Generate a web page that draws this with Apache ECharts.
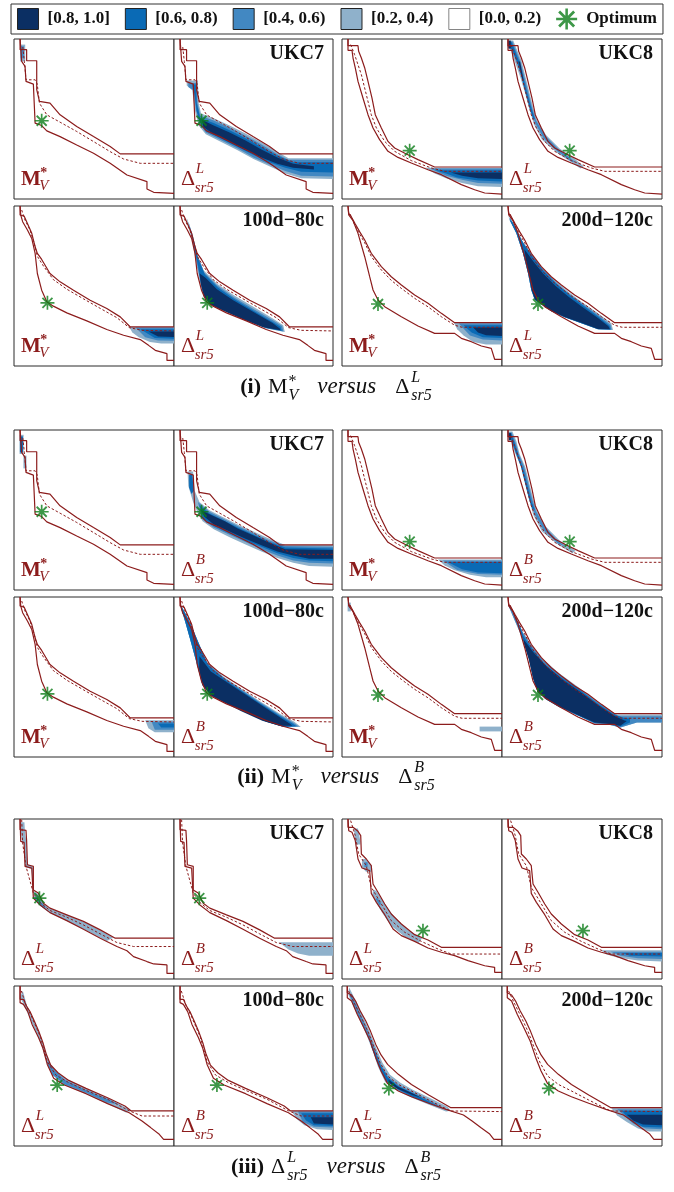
<!DOCTYPE html>
<html>
<head>
<meta charset="utf-8">
<script src="https://cdn.jsdelivr.net/npm/echarts/dist/echarts.min.js"></script>
<style>
html, body { margin: 0; padding: 0; background: #ffffff; }
#chart { width: 674px; height: 1192px; }
</style>
</head>
<body>
<div id="chart"></div>
<script>
// ---------------------------------------------------------------------------
// Legend levels (fraction of runs covering a cell)
// ---------------------------------------------------------------------------
const levelNames = ['[0.8, 1.0]', '[0.6, 0.8)', '[0.4, 0.6)', '[0.2, 0.4)', '[0.0, 0.2)'];
const levelColors = ['#0b2f63', '#0a6ab5', '#4288c2', '#8fb1cb', '#ffffff'];

const datasetTitles = ['UKC7', 'UKC8', '100d\u221280c', '200d\u2212120c'];

// ---------------------------------------------------------------------------
// Attainment fronts, panel units (x 0..100 left->right, y 0..100 bottom->top)
// Family A: used by sections (i) and (ii); family B: section (iii)
// ---------------------------------------------------------------------------
const ukc7A_up  = [[3.8,100],[3.8,93.3],[7.9,93.3],[7.9,86.4],[14.2,86.4],[14.2,68.3],[15.9,61],[22.5,59.9],[28.8,52.6],[39.2,45.3],[49.7,39],[60.1,32.8],[66.4,28.2],[100,28.2]];
const ukc7A_lo  = [[3.8,100],[4.8,86],[6.9,82.9],[7.5,73.5],[12.1,71.8],[13.2,47.4],[17.3,45.9],[20.5,42.6],[28.8,39],[39.2,33.8],[49.7,28.6],[60.1,22.3],[70.6,15],[83.1,10.9],[83.1,6.3],[87.3,4.2],[100,3.5]];
const ukc7A_med = [[5.5,95],[6.5,86],[7.5,74.5],[13.2,74.5],[14.5,72],[15.9,59.9],[20.5,52.6],[28.8,48],[39.2,42.2],[49.7,35.9],[60.1,29.6],[68.5,25],[78.9,22.3],[100,22.3]];
const ukc7A_opt = [17.3, 48.9];

const ukc8A_up  = [[3.75,100],[3.75,95.8],[10,95.8],[10.4,92.3],[12.1,88.1],[14.2,81.9],[16.25,73.5],[18.75,63.1],[20.8,52.7],[24.6,44.4],[28.75,36],[32.9,31.9],[40.2,28.1],[47.5,24.6],[57.9,20],[100,20]];
const ukc8A_lo  = [[3.75,100],[3.75,92.9],[6.25,92.9],[6.9,88.1],[8.3,81.9],[10,73.5],[13.1,63.1],[16.25,52.7],[19.4,44.4],[23.5,37.1],[28.75,29.8],[35,26],[43.3,22.5],[53.75,18.3],[62.1,15.2],[74.6,9],[82.9,5.8],[89.2,3.75],[100,3.1]];
const ukc8A_med = [[5.4,96.5],[7.9,90.2],[12.1,77.7],[15.2,65.2],[18.3,52.7],[21.5,44.4],[26.7,36],[32.9,29.8],[43.3,24],[55.8,19.4],[64.2,17.3],[100,17.3]];
const ukc8A_opt = [42.3, 30.2];

const d100A_up  = [[3.8,100],[3.8,94.4],[6.3,93.7],[8.4,89.1],[11.1,82.9],[13.2,74.5],[14.6,70.4],[17.3,66.6],[22.5,57.8],[28.8,52.6],[37.2,47.4],[47.6,41.1],[58,35.9],[66.4,30.7],[72.7,24.4],[100,24.4]];
const d100A_lo  = [[3.8,100],[4.2,94.4],[5.4,90.2],[8.4,85],[11.1,79.7],[13.2,70.4],[14.6,57.8],[17.3,47.4],[20.5,40.1],[24.6,37.4],[33,33.2],[45.5,28.2],[58,22.8],[68.5,19.2],[78.9,16.5],[84.1,12.9],[88.3,9.8],[95.6,7.7],[95.6,3.5],[100,3.5]];
const d100A_med = [[4.8,97.5],[6.9,91.2],[10,85],[12.7,76.6],[14.6,68.5],[18.4,62.5],[24.6,54],[33,48],[43.4,42],[53.9,36],[64.3,30.2],[72,24],[80,22.3],[100,21.9]];
const d100A_opt = [20.9, 39.5];

const d200A_up  = [[3.75,100],[4.2,95.4],[5.8,93.3],[8.3,88.75],[11,84],[14.2,78.75],[18.3,70.4],[24.6,62.1],[30.8,55.8],[37.1,50.6],[45.4,44.4],[53.75,39.2],[62.1,32.9],[70.4,27.1],[100,27.1]];
const d200A_lo  = [[3.75,100],[4.2,94.4],[6.9,90.8],[10,82.9],[14.2,68.3],[17.3,55.8],[19.4,47.5],[22.5,41.25],[26.7,37.1],[37.1,30.8],[47.5,25],[57.9,20.4],[70.4,20.4],[74.6,17.3],[80.8,15.2],[87.1,12.5],[93.3,11],[95.4,4.2],[100,4.2]];
const d200A_med = [[5,95],[8.3,87.5],[11,82.5],[14.2,77],[18.3,68.5],[24.6,60],[30.8,53.5],[37.1,48.5],[45.4,42.3],[53.75,37],[62.1,30.8],[70.4,25.5],[75,24.2],[100,24.2]];
const d200A_opt = [22.5, 38.75];

const ukc7B_up  = [[3.8,100],[3.8,93.3],[7.5,92.9],[7.9,86],[8.4,71.4],[12.1,70.4],[12.1,55.7],[15.2,53.7],[18.4,47.4],[22.5,44.3],[33,40.1],[43.4,36],[53.9,30.7],[63.3,25.5],[100,25.5]];
const ukc7B_lo  = [[3.8,100],[4.2,86],[6.3,85.4],[6.9,70.4],[11.1,69.3],[12.1,50.5],[16.3,46.3],[22.5,41.5],[33,36.5],[43.4,31.1],[53.9,25.5],[64.3,20.3],[70.6,17.7],[74.7,14],[83.1,10.9],[87.3,9.4],[95.6,8.8],[95.6,3.5],[100,3.5]];
const ukc7B_med = [[4.8,99.6],[5.4,85],[7.5,70.4],[12.1,53.7],[16.3,47.8],[22.5,42.8],[33,38.6],[43.4,33.8],[53.9,28.2],[64.3,22.8],[74.7,20.3],[100,20.3]];
const ukc7B_opt = [15.9, 50.5];

const ukc8B_up  = [[3.75,100],[3.75,94.8],[6.9,94.8],[10,92.3],[11.7,89.6],[12.1,78.1],[15.2,75],[18.3,70.8],[19.4,59.4],[22.5,54.2],[26.7,46.9],[30.8,40.6],[37.1,34.4],[45.4,27.7],[53.75,24.4],[62.1,19.8],[100,19.8]];
const ukc8B_lo  = [[3.75,100],[4.2,92.7],[6.25,91.7],[8.3,86.5],[10,75],[12.5,69.4],[17.3,67.7],[18.3,53.5],[21.5,47.9],[26.7,40.2],[31.9,31.25],[37.1,27.1],[45.4,23.5],[53.75,19.4],[62.1,16.7],[70.4,14.6],[78.75,11.5],[89.2,8.3],[95.4,7.3],[95.4,4.2],[100,4.2]];
const ukc8B_med = [[5.4,99],[8.3,89.6],[10.4,78.1],[15.2,70.8],[18.3,57.3],[24.6,46.9],[30.8,36.5],[39.2,29.2],[49.6,23.5],[60,18.75],[68.3,15.6],[100,15.6]];
const ukc8B_opt = [50.6, 30.2];

const d100B_up  = [[3.8,100],[3.8,91.7],[5.9,91.7],[7.8,87.5],[10,84],[12.7,78.1],[15.4,71.9],[18.1,64.6],[20.2,57.3],[22.9,50.6],[27.5,45.8],[34.2,41],[45,36],[58.5,30.2],[69.3,25],[73.3,21.9],[100,21.9]];
const d100B_lo  = [[3.8,100],[3.8,89.6],[5.9,88.5],[8.6,84],[11.3,76],[15.4,67.7],[18.1,61],[20.8,51],[24.8,42.3],[31.5,38.1],[45,32.7],[58.5,26.5],[72,20.8],[80,15.6],[85.4,11.5],[90.8,7.3],[93.5,4.2],[100,4.2]];
const d100B_med = [[4.6,96.9],[7.3,88.5],[11.3,80.2],[16.7,67.7],[20.8,52.7],[26.1,44.4],[34.2,39.6],[45,34.8],[58.5,29.2],[72,22],[80,18.75],[100,18.75]];
const d100B_opt = [27, 38.1];

const d200B_up  = [[3.3,100],[3.3,95.8],[6,94.4],[8.7,90.2],[11.4,84.4],[14.9,78.1],[17.9,71.5],[21.1,63.5],[24.4,56.9],[28.5,51],[35.2,44.8],[43.4,38.5],[54.2,31.9],[67.8,24],[100,24]];
const d200B_lo  = [[3.3,100],[3.3,92.7],[6,90.6],[9.5,82.3],[13.6,74],[17.6,65.6],[21.1,55.2],[24.4,46.9],[28.5,39],[35.2,34.4],[43.4,30.8],[54.2,26.7],[65,22.9],[75.9,19.4],[81.3,15.6],[86.7,11.5],[92.1,7.7],[94.9,4.2],[100,4.2]];
const d200B_med = [[4.1,96.9],[8.1,88.5],[12.2,80.2],[16.3,71.5],[20.3,61],[23.8,52.1],[28.5,43.75],[35.2,38.5],[43.4,34.4],[54.2,28.75],[67.8,21.9],[100,21.5]];
const d200B_opt = [29.3, 36];

// ---------------------------------------------------------------------------
// Shaded regions: [level, polygon]; level 1 = [0.2,0.4) ... 4 = [0.8,1.0]
// ---------------------------------------------------------------------------
const shade_i_ukc7_mv = [
  [1, [[3.8,96.5],[7,96.5],[7,86],[3.8,86]]],
  [2, [[4.2,95.5],[6.2,95.5],[6.2,88],[4.2,88]]]
];
const shade_i_ukc7_dl = [
  [1, [[8,74],[15,74],[15.5,60],[17,53.5],[25,50.5],[35,46],[45,41],[55,35.5],[65,29.5],[72,25.5],[100,25.5],[100,12.5],[80,12.9],[70,16],[60,20.5],[50,25],[40,30.5],[30,35.5],[20,40.5],[15.5,46],[13,56],[11.5,68],[8,71]]],
  [2, [[9,72.5],[14.2,72.5],[14.8,60],[16.5,52],[25,49],[35,44.5],[45,39.5],[55,34],[65,28],[72,24.5],[100,24.5],[100,14],[80,14.5],[70,17.5],[60,21.5],[50,26],[40,31.5],[30,36.5],[20,41.5],[16,47],[13.8,56],[12.3,68],[9,70]]],
  [3, [[11.5,71.5],[13.8,71.5],[14.3,60],[16.5,50.5],[25,47.5],[35,43],[45,38],[55,32.5],[65,27],[75,23],[100,23],[100,16.5],[80,17],[70,19.5],[60,23],[50,27.5],[40,32.5],[30,37.5],[20,42.5],[16.5,48],[14.2,55],[13,65]]],
  [4, [[17.5,49.5],[25,46],[35,41.5],[45,36.5],[55,31],[65,26],[75,22],[88,20.5],[88,18.5],[75,19.5],[65,22],[55,26],[45,30.5],[35,35.5],[25,40.5],[18.5,45]]]
];
const shade_i_ukc8_mv = [
  [1, [[52,19.5],[100,19.5],[100,7.5],[85,8],[75,10],[65,13],[58,16]]],
  [2, [[55,19],[100,19],[100,9.5],[85,10],[75,12],[65,14.5]]],
  [3, [[58,18],[100,18],[100,11],[85,11.5],[72,13.5],[65,16]]],
  [4, [[68,16.5],[100,16.5],[100,12.5],[85,13],[75,14.5]]]
];
const shade_i_ukc8_dl = [
  [1, [[3.5,99],[7,99],[9,94],[12,87],[14.5,77],[17,67],[19.5,57],[22,49],[27.5,40],[36,31.5],[45,25.5],[51,20.5],[49,19],[44,22.5],[35,28.5],[25,37],[20,46.5],[17,56.5],[14.5,66],[11.5,76],[8,86],[5.5,93],[3.5,95]]],
  [2, [[4,98.5],[6.5,98.5],[8.5,93.5],[11.3,86.5],[13.8,77],[16.3,67],[18.8,57],[21.3,49],[27,39.5],[35.5,31],[44,24.5],[46,23],[43.5,23.5],[35,29.5],[26,38],[20.7,47.5],[17.7,57],[15.2,67],[12.3,77],[9,86],[6,93.5],[4,96]]],
  [3, [[4.2,98],[6,98],[8,93],[10.7,86],[13.3,76],[15.8,66],[18,58],[20.5,50],[19.5,50],[17.2,57],[14.8,66],[12.3,76],[9.5,85.5],[6.5,93],[4.2,95.5]]],
  [4, [[4,99],[5.5,99],[5.5,94],[4,94]]],
  [4, [[10.3,86],[11.3,86],[13.5,74],[12.8,74]]]
];
const shade_i_d100_mv = [
  [1, [[72,24.4],[100,24.4],[100,14],[92,14],[85,15],[78,18],[74,21]]],
  [2, [[76,24],[100,24],[100,15.8],[90,16],[82,18]]],
  [3, [[79,23],[100,23],[100,17],[88,17.5]]],
  [4, [[84,21.5],[100,21.5],[100,18.2],[90,18.5]]]
];
const shade_i_d100_dl = [
  [1, [[8.1,92.3],[11.3,82.9],[14.4,70.4],[18.6,59.9],[26.9,51.6],[37.4,44.3],[49.9,37],[62.4,29.6],[68.7,25.5],[69.7,21.3],[58.2,23.4],[45.7,28.2],[33.2,33.8],[24.8,37.4],[18.6,43.2],[16.5,51.6],[14.4,62],[11.3,78.7],[8.1,91.2]]],
  [2, [[9,90.5],[12,81],[14.8,69],[19,58.5],[27.2,50.3],[37.6,43],[50,35.7],[62.4,28.4],[68,25],[68.8,21.6],[58.2,23.6],[45.7,28.4],[33.2,34],[24.8,37.6],[18.8,43.4],[16.8,51.6],[14.8,62],[11.9,77.5],[9.5,88]]],
  [3, [[12.5,78],[15.2,67],[19.5,57],[27.5,49],[37.8,41.8],[50,34.5],[62,27.5],[67,24.5],[67.8,22],[58.2,23.8],[45.7,28.6],[33.2,34.2],[25,37.8],[19,43.6],[17,51.6],[15.2,62],[13,73]]],
  [4, [[16,58],[20,55],[27,48],[37.5,41],[50,33.8],[62,26.8],[66.5,23.5],[67,22.3],[56.2,24.2],[43.6,29],[31.1,34.6],[22.8,38.4],[18.8,43.6],[17,51]]]
];
const shade_i_d200_mv = [
  [1, [[70,27],[100,27],[100,13.5],[90,13.5],[82,15],[76,19],[72,23]]],
  [2, [[73,26.5],[100,26.5],[100,16],[88,16.5],[80,19]]],
  [3, [[76,25.5],[100,25.5],[100,17.5],[88,18],[81,21]]],
  [4, [[82,24],[100,24],[100,18.8],[90,19.2],[85,21]]]
];
const d200_i_floor = [[60,22.9],[49.6,26.7],[39.2,30.4],[30.8,34.2],[24.6,38.5],[20.4,41.5],[18.3,47.5],[16.25,57.9],[13.1,70.4],[8.96,82.9],[4.8,91.25]];
const shade_i_d200_dl = [
  [1, [[3.75,94.4],[7.9,87.1],[12.1,78.75],[18.3,70.4],[24.6,62.1],[32.9,53.75],[41.25,46.5],[49.6,40.2],[60,32.9],[68.3,26.7],[69.4,22.5]].concat(d200_i_floor)],
  [2, [[5,93],[8.8,85.8],[13,77.5],[19,69],[25.2,60.8],[33.4,52.5],[41.7,45.3],[50,39],[60.2,31.7],[67.8,25.8],[68.6,22.7]].concat(d200_i_floor)],
  [3, [[6.5,90],[10,83],[13.8,76],[19.5,67.8],[25.8,59.7],[34,51.4],[42.2,44.3],[50.5,38],[60.5,30.7],[67.2,25.2],[68,22.8]].concat(d200_i_floor)],
  [4, [[14,73],[19.5,65.5],[25.5,58],[33.5,50],[42,43],[50,37],[60,30],[66.5,24.8],[67.5,23],[60,23.2],[49.6,27],[39.2,30.7],[30.8,34.3],[24.6,38.7],[20.6,41.6],[18.6,47.5],[16.8,57.9],[15,66]]]
];

const shade_ii_ukc7_mv = [
  [1, [[3.5,97],[6,97],[6,85],[3.5,85]]],
  [1, [[5.9,84],[7.8,84],[7.8,76],[5.9,76]]],
  [3, [[3.7,96],[5.6,96],[5.6,86],[3.7,86]]]
];
const shade_ii_ukc7_db = [
  [1, [[8.5,74],[12,74],[13,62],[16,55],[22,50],[30,46],[40,41],[50,36.5],[60,32],[70,28.2],[80,28.2],[100,28.2],[100,14.5],[85,15],[75,17],[65,20],[55,24],[45,28.5],[35,33],[25,38],[18,43],[15,48],[12,55],[9,65]]],
  [2, [[15,55],[22,49],[30,45],[40,40],[50,35.5],[60,31],[70,27.5],[100,27],[100,16.5],[85,17],[75,18.5],[65,21.5],[55,25.5],[45,30],[35,34.5],[25,39],[18,44]]],
  [3, [[9.5,72],[11.5,72],[12.5,62],[11,60],[9.5,64]]],
  [3, [[16,53],[22,48],[30,44],[40,39],[50,34.5],[60,30],[70,26.5],[100,26],[100,18],[85,18.5],[75,20],[65,23],[55,27],[45,31],[35,35.5],[25,40],[18,45]]],
  [4, [[17,50],[24,46.5],[32,43],[40,38.5],[50,34],[60,29.5],[70,25.5],[100,25],[100,19.5],[85,19.5],[75,21.5],[65,24],[55,28],[45,32],[35,36.5],[25,41],[19,46]]]
];
const shade_ii_ukc8_mv = [
  [1, [[60,19],[100,19],[100,8],[90,8],[80,9.5],[70,12.5],[64,15.5]]],
  [2, [[63,18.5],[100,18.5],[100,9.5],[85,10],[72,12.5]]],
  [3, [[66,17.5],[100,17.5],[100,10.5],[85,11],[75,13]]]
];
const shade_ii_ukc8_db = [
  [1, [[3.5,99],[6.5,99],[9,93],[11,85],[14.5,77],[17,67],[19.5,57],[22,49],[27.5,39.5],[36,31],[44,26],[46,24.5],[44,23],[35.5,28],[25,36.5],[19.5,47],[17,56.5],[14.5,67],[12,77],[8,86],[5.5,94],[3.5,96]]],
  [2, [[4,98.5],[6,98.5],[8.5,92],[10.5,85],[13.8,77],[16.3,67],[18.8,57],[21.3,49],[26.8,39.5],[35,30.5],[40,27],[35,29],[26,37.5],[20.3,47.5],[17.8,57],[15.3,67],[12.8,77],[9,86],[6,93.5],[4,96.5]]],
  [3, [[4,98],[5.8,98],[7.5,93],[10,85],[13.5,75],[16,65],[18.5,55],[20.5,50],[19,50.5],[16.8,57],[14.3,67],[11.8,77],[8.5,86],[5.6,94],[4,96.5]]],
  [4, [[4.2,98],[5.6,98],[5.6,93.5],[4.2,93.5]]]
];
const shade_ii_d100_mv = [
  [1, [[82,23],[100,23],[100,15.5],[88,15.5],[84,18]]],
  [2, [[86,22],[100,22],[100,17],[88,17]]],
  [3, [[90,21],[100,21],[100,18.5],[92,18.5]]]
];
const d100_ii_floor = [[69,18.8],[58.2,22],[44.7,28.2],[31.3,34.5],[23.2,38.7],[17.8,45],[15.1,55.4],[11.1,70.1],[7,84.7],[3.8,95.2]];
const shade_ii_d100_db = [
  [1, [[4.3,95.2],[9.7,84.7],[15.1,72.2],[20.5,59.6],[31.3,50.2],[42,42.9],[52.8,35.6],[66.3,27.2],[75.7,22],[79.8,18.8]].concat(d100_ii_floor)],
  [2, [[5.5,93],[10.5,83],[15.6,71],[21,58.5],[31.6,49.3],[42.3,42],[53,34.8],[66.3,26.4],[74.8,21.6],[78.5,19]].concat(d100_ii_floor)],
  [3, [[7,90],[11.5,81],[16.2,69.5],[21.5,57.5],[32,48.5],[42.6,41.2],[53.3,34],[66.3,25.8],[74,21.2],[77,19.2]].concat(d100_ii_floor)],
  [4, [[16,63],[23.2,53.5],[34,46.3],[44.7,39.2],[55.5,32],[66.3,25],[73,20.8],[74.4,19.6],[66.3,19.6],[55.5,22.6],[42,28.8],[31.3,34.2],[23.2,38.5],[18,45],[15.8,55]]]
];
const shade_ii_d200_mv = [
  [1, [[86,19],[100,19],[100,16],[86,16]]],
  [1, [[3.5,96.5],[5.5,96.5],[5.5,91],[3.5,91]]]
];
const d200_ii_floor = [[100,21.5],[84.3,21.5],[74,18.5],[65,20.6],[57.9,21],[49.2,25.1],[35.7,31.3],[27.6,36],[22.2,40.8],[19.5,49.2],[16.8,61.7],[12.7,74.3],[7.3,86.8],[3.8,95.2]];
const shade_ii_d200_db = [
  [1, [[4.6,95.2],[8.6,86.8],[12.7,78.5],[18.1,70.1],[24.9,61.7],[35.7,52.3],[46.5,44.5],[57.3,36.6],[68.1,28.7],[72,26.5],[100,26.5]].concat(d200_ii_floor)],
  [2, [[6,93],[10,84.5],[13.2,77.5],[18.7,69],[25.5,60.5],[36.2,51.2],[47,43.5],[57.8,35.7],[68.5,28],[72.5,25.5],[100,25.5]].concat(d200_ii_floor)],
  [3, [[8,89],[11.5,81],[13.4,75.5],[19.3,66.8],[26.5,58.2],[37.3,49.6],[48,42.4],[58.9,34],[69.6,26.9],[76,24.5],[80,24],[80,21.5],[74,19],[65,20.8],[57.9,21.3],[49.2,25.1],[35.7,31.3],[27.6,36],[22.2,40.8],[19.5,49.2],[16.8,61.7],[12.7,74.3]]],
  [4, [[13.5,73.5],[20,65],[28,56.5],[38.4,48],[49.2,40.5],[60,32.5],[70.8,25.5],[76.2,23],[78,22.5],[74,19.5],[65,21],[57.9,21.5],[49.2,25.5],[35.7,31.5],[27.6,36.3],[22.2,41],[19.5,49],[16.8,61],[14,70]]]
];

const shade_iii_ukc7_dl = [
  [1, [[3.8,98],[6.5,98],[7,90],[7.8,86],[8.2,72],[11.8,70],[12,55],[15.5,53],[18.5,47],[22.5,44],[33,40],[45.5,34.8],[58,28.2],[62,25.8],[58,23.8],[45.5,30.2],[33,36.3],[21,42.2],[16.3,45.8],[12.5,50],[11.5,60],[11,68.8],[7,70],[6.5,84],[5,86],[4.3,92]]],
  [2, [[14,52],[17,48],[20,45],[19,44],[15,47],[13,50]]]
];
const shade_iii_ukc7_db = [
  [1, [[66,23],[100,23],[100,14.5],[85,14.5],[78,16],[72,18.5]]]
];
const shade_iii_ukc8_dl = [
  [1, [[7.5,94],[10,94],[11.5,86],[11.5,84],[9,84],[8,88]]],
  [1, [[12.5,75],[15,75],[18.5,71],[18.5,67],[15,67],[12.5,70]]],
  [1, [[19.5,56],[21.5,55],[27,46.5],[33,38.3],[41.5,30.5],[50,25.5],[48,22.5],[39,26.5],[30.5,33.5],[25,41.5],[21,48.5],[19,53]]],
  [2, [[14,73],[16,73],[16,70],[14,70]]],
  [2, [[22,51],[24.5,47],[23.5,46],[21,50]]]
];
const shade_iii_ukc8_db = [
  [1, [[62,18],[100,18],[100,11],[85,11.5],[72,13.5],[65,15.5]]],
  [2, [[68,17],[100,17],[100,12.5],[85,13],[74,14.5]]],
  [3, [[75,16.2],[100,16.2],[100,14],[80,14.5]]]
];
const shade_iii_d100_dl = [
  [1, [[5.5,97],[8.5,86.3],[12.5,78.5],[16.5,68.8],[19.5,59.5],[22.5,51.5],[26.5,46.5],[32.5,42],[45.5,35.6],[59,29.8],[71,23.5],[73,22],[70,21],[58,26.5],[44.5,32.8],[31,38.2],[23.5,45],[19.5,55.5],[17,63.5],[14.3,70],[10.3,79],[6.3,88],[3.8,93]]],
  [2, [[21.5,53],[25.5,47],[32,41.3],[45,35],[58.5,29.4],[66,26],[58,27.2],[44.8,33.5],[31.5,38.6],[24,44.5],[20.5,52]]]
];
const shade_iii_d100_db = [
  [1, [[74,22],[100,22],[100,10],[90,10.5],[82,13],[77,17]]],
  [2, [[78,21.5],[100,21.5],[100,11.5],[88,12],[81,15]]],
  [3, [[80,20.5],[100,20.5],[100,12.5],[88,13],[83,16]]],
  [4, [[86,18],[100,18],[100,13.5],[88,14]]]
];
const shade_iii_d200_dl = [
  [1, [[4.5,99],[9,90],[13.2,81],[17.3,71.5],[21.5,61],[25.3,52],[30,44.5],[36.5,39.5],[44.5,35],[55,30],[66,24.5],[68,22],[65,21.5],[54,26],[43,30.5],[34.5,34.5],[27,40],[22.5,49.5],[19.5,58.5],[15.5,69],[11.5,77.8],[7.5,86.5],[3.8,95]]],
  [2, [[6,95],[9.3,87.5],[13,79],[17,70],[21,59.5],[24.5,50.5],[29,43],[35.5,38],[44,33.8],[55,28.5],[64,23.3],[54,26.5],[43,31],[35,35],[28,40],[23,49.5],[19.8,58.5],[15.8,69.2],[11.8,78],[7.8,86.5],[4.5,95]]],
  [3, [[18,64],[21,58],[24,50.5],[28.5,43],[35,37.5],[44,33],[54,28],[60,25],[54,26.8],[43,31.3],[35,35.5],[28,40.3],[23.5,49],[20.3,57],[18.3,62]]],
  [4, [[29,41.5],[35,37],[44,33],[50,30],[44,31.8],[35,35.7],[29.5,39.5]]]
];
const shade_iii_d200_db = [
  [1, [[68,24],[100,24],[100,9],[92,9],[85,11],[78,15],[72,19]]],
  [2, [[72,23],[100,23],[100,10.5],[90,11],[82,14]]],
  [3, [[75,22],[100,22],[100,11.5],[88,12],[80,16]]],
  [4, [[78,19.5],[100,19.5],[100,13],[88,13.5],[82,16]]]
];

// ---------------------------------------------------------------------------
// Page layout
// ---------------------------------------------------------------------------
const SERIF = '"Liberation Serif", "Times New Roman", "DejaVu Serif", serif';
const RED = '#8c1c1c';
const GREEN = '#0c7d19';
const ASTERISK = 'path://M-0.85,-7L0.85,-7L0.85,7L-0.85,7Z M-7,-0.85L7,-0.85L7,0.85L-7,0.85Z M-4.35,-5.65L5.65,4.35L4.35,5.65L-5.65,-4.35Z M-5.65,4.35L4.35,-5.65L5.65,-4.35L-4.35,5.65Z';

const colLeft = [14, 174, 342, 502];
const colWidth = [160, 159, 160, 160];
const rowTop = [39, 206, 430, 597, 819, 986];
const PANEL_H = 160;

const fronts = {
  ukc7A: [ukc7A_up, ukc7A_lo, ukc7A_med, ukc7A_opt],
  ukc8A: [ukc8A_up, ukc8A_lo, ukc8A_med, ukc8A_opt],
  d100A: [d100A_up, d100A_lo, d100A_med, d100A_opt],
  d200A: [d200A_up, d200A_lo, d200A_med, d200A_opt],
  ukc7B: [ukc7B_up, ukc7B_lo, ukc7B_med, ukc7B_opt],
  ukc8B: [ukc8B_up, ukc8B_lo, ukc8B_med, ukc8B_opt],
  d100B: [d100B_up, d100B_lo, d100B_med, d100B_opt],
  d200B: [d200B_up, d200B_lo, d200B_med, d200B_opt]
};

// [front, shading, label kind] for every panel, row by row
const panelRows = [
  [['ukc7A', shade_i_ukc7_mv, 'MV'], ['ukc7A', shade_i_ukc7_dl, 'DL'], ['ukc8A', shade_i_ukc8_mv, 'MV'], ['ukc8A', shade_i_ukc8_dl, 'DL']],
  [['d100A', shade_i_d100_mv, 'MV'], ['d100A', shade_i_d100_dl, 'DL'], ['d200A', shade_i_d200_mv, 'MV'], ['d200A', shade_i_d200_dl, 'DL']],
  [['ukc7A', shade_ii_ukc7_mv, 'MV'], ['ukc7A', shade_ii_ukc7_db, 'DB'], ['ukc8A', shade_ii_ukc8_mv, 'MV'], ['ukc8A', shade_ii_ukc8_db, 'DB']],
  [['d100A', shade_ii_d100_mv, 'MV'], ['d100A', shade_ii_d100_db, 'DB'], ['d200A', shade_ii_d200_mv, 'MV'], ['d200A', shade_ii_d200_db, 'DB']],
  [['ukc7B', shade_iii_ukc7_dl, 'DL'], ['ukc7B', shade_iii_ukc7_db, 'DB'], ['ukc8B', shade_iii_ukc8_dl, 'DL'], ['ukc8B', shade_iii_ukc8_db, 'DB']],
  [['d100B', shade_iii_d100_dl, 'DL'], ['d100B', shade_iii_d100_db, 'DB'], ['d200B', shade_iii_d200_dl, 'DL'], ['d200B', shade_iii_d200_db, 'DB']]
];
const rowTitleIdx = [[0, 1], [2, 3], [0, 1], [2, 3], [0, 1], [2, 3]];

// ---------------------------------------------------------------------------
// Text helpers
// ---------------------------------------------------------------------------
const measureCtx = document.createElement('canvas').getContext('2d');
function fontStr(style, size) { return style + ' ' + size + 'px ' + SERIF; }
function textW(text, style, size) { measureCtx.font = fontStr(style, size); return measureCtx.measureText(text).width; }
// place text by its alphabetic baseline
function baseText(x, baseline, text, style, size, fill, align) {
  return {
    type: 'text', x: x, y: baseline - 0.34 * size, silent: true, z: 50,
    style: { text: text, font: fontStr(style, size), fill: fill, align: align || 'left', verticalAlign: 'middle' }
  };
}

function panelLabel(kind, left, bottom) {
  const out = [];
  const x0 = left + 7;
  if (kind === 'MV') {
    const w = textW('M', 'bold', 21);
    out.push(baseText(x0, bottom - 12, 'M', 'bold', 21, RED));
    out.push(baseText(x0 + w - 0.5, bottom - 21, '*', 'bold', 14, RED));
    out.push(baseText(x0 + w - 1.5, bottom - 8, 'V', 'italic', 15, RED));
  } else {
    const w = textW('\u0394', 'normal', 22);
    out.push(baseText(x0, bottom - 12, '\u0394', 'normal', 22, RED));
    out.push(baseText(x0 + w + 0.5, bottom - 25, kind === 'DL' ? 'L' : 'B', 'italic', 15, RED));
    out.push(baseText(x0 + w - 0.5, bottom - 6, 'sr5', 'italic', 15, RED));
  }
  return out;
}

// caption: sequence of tokens laid out left to right, centred on cx
const CAP = 22, CAP_SCRIPT = 16;
function caption(tokens, cx, baseline) {
  const widths = tokens.map(function (tk) {
    if (tk.gap !== undefined) return tk.gap;
    if (tk.sup !== undefined) return Math.max(textW(tk.sup, tk.supStyle, CAP_SCRIPT), textW(tk.sub, 'italic', CAP_SCRIPT));
    return textW(tk.t, tk.style, tk.size || CAP);
  });
  const total = widths.reduce(function (a, b) { return a + b; }, 0);
  let x = cx - total / 2;
  const out = [];
  tokens.forEach(function (tk, i) {
    if (tk.sup !== undefined) {
      out.push(baseText(x, baseline - (tk.supStyle === 'normal' ? 8 : 12), tk.sup, tk.supStyle, CAP_SCRIPT, '#111'));
      out.push(baseText(x, baseline + 6, tk.sub, 'italic', CAP_SCRIPT, '#111'));
    } else if (tk.t !== undefined) {
      out.push(baseText(x, baseline, tk.t, tk.style, tk.size || CAP, '#111'));
    }
    x += widths[i];
  });
  return out;
}
const MV_TOKENS = [{ t: 'M', style: 'normal' }, { gap: 1 }, { sup: '*', supStyle: 'normal', sub: 'V' }];
function deltaTokens(s) { return [{ t: '\u0394', style: 'normal' }, { gap: 2 }, { sup: s, supStyle: 'italic', sub: 'sr5' }]; }
const VERSUS = [{ gap: 19 }, { t: 'versus', style: 'italic', size: 23 }, { gap: 19 }];

// ---------------------------------------------------------------------------
// Build option
// ---------------------------------------------------------------------------
const grids = [], xAxes = [], yAxes = [], series = [], graphics = [];

panelRows.forEach(function (row, r) {
  row.forEach(function (cell, c) {
    const g = grids.length;
    const left = colLeft[c], top = rowTop[r], w = colWidth[c];
    grids.push({ left: left, top: top, width: w, height: PANEL_H, show: true, borderColor: '#2a2a2a', borderWidth: 1, backgroundColor: '#ffffff' });
    xAxes.push({ type: 'value', gridIndex: g, min: 0, max: 100, show: false });
    yAxes.push({ type: 'value', gridIndex: g, min: 0, max: 100, show: false });

    const f = fronts[cell[0]];
    // shaded coverage regions
    cell[1].forEach(function (layer) {
      const lvl = layer[0], pts = layer[1];
      const color = levelColors[4 - lvl];
      series.push({
        type: 'custom', name: levelNames[4 - lvl], coordinateSystem: 'cartesian2d',
        xAxisIndex: g, yAxisIndex: g, data: pts, silent: true, clip: true, z: 1,
        renderItem: function (params, api) {
          if (params.dataIndex !== 0) return null;
          return { type: 'polygon', shape: { points: pts.map(function (p) { return api.coord(p); }) }, style: { fill: color } };
        }
      });
    });
    // upper / lower attainment fronts and the median front
    series.push({ type: 'line', xAxisIndex: g, yAxisIndex: g, data: f[0], symbol: 'none', silent: true, z: 3, lineStyle: { color: RED, width: 1.2 } });
    series.push({ type: 'line', xAxisIndex: g, yAxisIndex: g, data: f[1], symbol: 'none', silent: true, z: 3, lineStyle: { color: RED, width: 1.2 } });
    series.push({ type: 'line', xAxisIndex: g, yAxisIndex: g, data: f[2], symbol: 'none', silent: true, z: 3, lineStyle: { color: RED, width: 1, type: [2.5, 2] } });
    // optimum
    series.push({ type: 'scatter', name: 'Optimum', xAxisIndex: g, yAxisIndex: g, data: [f[3]], symbol: ASTERISK, symbolSize: 14, silent: true, z: 5, itemStyle: { color: GREEN } });

    panelLabel(cell[2], left, top + PANEL_H).forEach(function (e) { graphics.push(e); });
    if (c === 1 || c === 3) {
      graphics.push(baseText(left + w - 9, top + 22, datasetTitles[rowTitleIdx[r][c === 1 ? 0 : 1]], 'bold', 20, '#111', 'right'));
    }
  });
});
// empty entry so the legend lists the lowest level
series.push({ type: 'scatter', name: levelNames[4], xAxisIndex: 0, yAxisIndex: 0, data: [] });

// section captions
caption([{ t: '(i)', style: 'bold' }, { gap: 7 }].concat(MV_TOKENS, VERSUS, deltaTokens('L')), 336, 395).forEach(function (e) { graphics.push(e); });
caption([{ t: '(ii)', style: 'bold' }, { gap: 7 }].concat(MV_TOKENS, VERSUS, deltaTokens('B')), 336, 785).forEach(function (e) { graphics.push(e); });
caption([{ t: '(iii)', style: 'bold' }, { gap: 7 }].concat(deltaTokens('L'), VERSUS, deltaTokens('B')), 336, 1175).forEach(function (e) { graphics.push(e); });

const legendData = levelNames.map(function (n, i) {
  return { name: n, icon: 'rect', itemStyle: { color: levelColors[i], borderColor: i === 4 ? '#666' : '#222', borderWidth: 1 } };
});
legendData.push({ name: 'Optimum', icon: ASTERISK, itemStyle: { color: GREEN } });

const chart = echarts.init(document.getElementById('chart'), null, { renderer: 'canvas' });
chart.setOption({
  animation: false,
  backgroundColor: '#ffffff',
  legend: {
    top: 4, left: 'center', orient: 'horizontal',
    itemWidth: 21, itemHeight: 21, itemGap: 15,
    padding: [4, 6], borderColor: '#333', borderWidth: 1,
    selectedMode: false,
    textStyle: { fontFamily: SERIF, fontWeight: 'bold', fontSize: 17, color: '#111', padding: [0, 0, 0, 4] },
    data: legendData
  },
  grid: grids,
  xAxis: xAxes,
  yAxis: yAxes,
  series: series,
  graphic: graphics
});
</script>
</body>
</html>
